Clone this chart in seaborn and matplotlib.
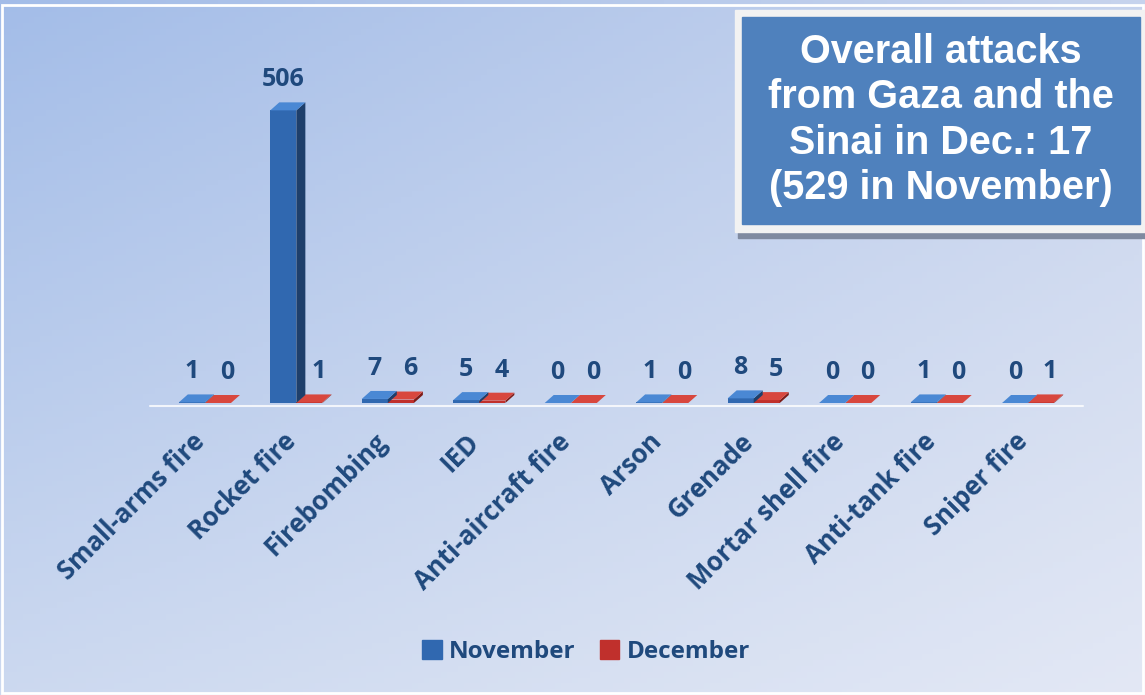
import numpy as np
import pandas as pd
import matplotlib.pyplot as plt
import matplotlib.transforms as mtransforms
import seaborn as sns
from matplotlib.patches import Rectangle

categories = ['Small-arms fire', 'Rocket fire', 'Firebombing', 'IED', 'Anti-aircraft fire',
              'Arson', 'Grenade', 'Mortar shell fire', 'Anti-tank fire', 'Sniper fire']
november = [1, 506, 7, 5, 0, 1, 8, 0, 1, 0]
december = [0, 1, 6, 4, 0, 0, 5, 0, 0, 1]
series = ['November', 'December']
box_text = 'Overall attacks\nfrom Gaza and the\nSinai in Dec.: 17\n(529 in November)'

df = pd.DataFrame({
    'category': categories * 2,
    'value': november + december,
    'month': ['November'] * len(categories) + ['December'] * len(categories),
})

sns.set_style('white')
plt.rcParams['font.family'] = ['Open Sans', 'DejaVu Sans']
label_color = '#1f497d'
front = {'November': '#3068b0', 'December': '#c0302c'}
side = {'November': '#1e3f6b', 'December': '#7e1c18'}
top = {'November': '#4a88d4', 'December': '#d8473e'}

fig = plt.figure(figsize=(11.45, 6.95), dpi=100)

# gradient background
bg = fig.add_axes([0, 0, 1, 1])
tl, tr = np.array([0.64, 0.74, 0.91]), np.array([0.78, 0.83, 0.93])
bl, br = np.array([0.80, 0.85, 0.94]), np.array([0.89, 0.91, 0.96])
u = np.linspace(0, 1, 200)[None, :, None]
v = np.linspace(0, 1, 120)[:, None, None]
img = (1 - v) * ((1 - u) * tl + u * tr) + v * ((1 - u) * bl + u * br)
bg.imshow(img, aspect='auto', extent=[0, 1, 0, 1], origin='upper')
bg.add_patch(Rectangle((0.002, 0.003), 0.996, 0.99, fill=False, ec='white', lw=2))
bg.set_axis_off()

ax = fig.add_axes([150 / 1145, 292 / 695, 933 / 1145, 347 / 695])
ax.patch.set_alpha(0)
sns.barplot(data=df, x='category', y='value', hue='month', hue_order=series,
            palette=front, width=0.57, ax=ax, legend=False, saturation=1, linewidth=0)
ax.set_xlim(-0.6, 9.6)
ax.set_ylim(0, 600)

# fake 3D depth: side and top faces derived from each bar
dx = 9 / 91.5
dy = 8 * 600 / 347
for i, m in enumerate(series):
    bars = ax.containers[i]
    vals = november if m == 'November' else december
    for p, val in zip(bars, vals):
        x0, w, h = p.get_x(), p.get_width(), p.get_height()
        ax.fill([x0 + w, x0 + w + dx, x0 + w + dx, x0 + w],
                [0, dy, h + dy, h], color=side[m], zorder=3 - i, lw=0)
        ax.fill([x0, x0 + w, x0 + w + dx, x0 + dx],
                [h, h, h + dy, h + dy], color=top[m], zorder=3 - i, lw=0)
        p.set_zorder(3 - i)
        lx = x0 + w / 2 + (dx if m == 'December' else 0)
        ax.annotate(str(val), (lx, h), xytext=(0, 22),
                    textcoords='offset points', ha='center', va='center',
                    fontsize=18, fontweight='bold', color=label_color)

ax.axhline(-6, color='white', lw=1.5, alpha=0.8, clip_on=False)
sns.despine(ax=ax, left=True, bottom=True)
ax.set_yticks([])
ax.set_xlabel('')
ax.set_ylabel('')
ax.tick_params(axis='x', length=0, pad=18)
ax.set_xticks(range(len(categories)))
ax.set_xticklabels(categories, rotation=45, ha='right', rotation_mode='anchor',
                   fontsize=18.5, fontweight='bold', color=label_color)
shift = mtransforms.ScaledTranslation(-14 / 100, 0, fig.dpi_scale_trans)
for t in ax.get_xticklabels():
    t.set_transform(t.get_transform() + shift)

handles = [Rectangle((0, 0), 1, 1, color=front[m]) for m in series]
leg = fig.legend(handles, series, loc='center', bbox_to_anchor=(586 / 1145, 1 - 652 / 695),
                 ncol=2, frameon=False, handlelength=0.8, handleheight=0.8,
                 handletextpad=0.3, columnspacing=1.0,
                 prop={'size': 17.5, 'weight': 'bold'})
for t in leg.get_texts():
    t.set_color(label_color)

# text box, top right
bg.add_patch(Rectangle((738 / 1145, 1 - 238 / 695), 407 / 1145, 8 / 695,
                       color='#7f8aa0', transform=bg.transAxes))
bg.add_patch(Rectangle((735 / 1145, 1 - 232 / 695), 410 / 1145, 222 / 695,
                       color='#f2f2f2', transform=bg.transAxes))
bg.add_patch(Rectangle((742 / 1145, 1 - 224 / 695), 398 / 1145, 207 / 695,
                       color='#4f81bd', transform=bg.transAxes))
bg.text(941 / 1145, 1 - 120 / 695, box_text, ha='center', va='center',
        fontsize=28.5, fontweight='bold', color='white', linespacing=1.25,
        family='Liberation Sans', transform=bg.transAxes)

fig.savefig('out.png', dpi=100)
